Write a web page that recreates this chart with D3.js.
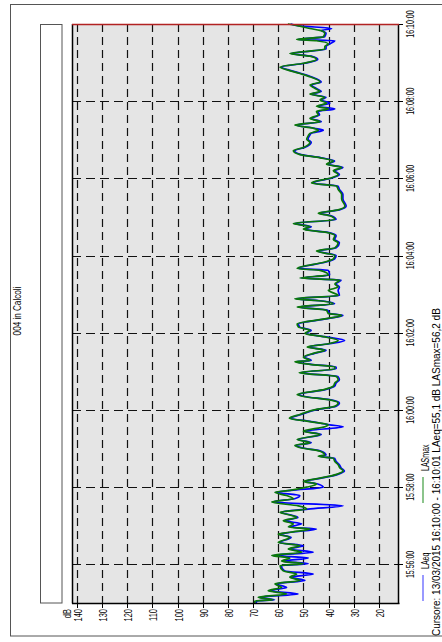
<!DOCTYPE html>
<html><head><meta charset="utf-8">
<script src="https://cdn.jsdelivr.net/npm/d3@7/dist/d3.min.js"></script>
<style>body{margin:0;background:#fff;}svg{display:block;font-family:"Liberation Sans",Arial,sans-serif;}</style>
</head><body><svg id="c" width="442" height="642"></svg>
<script>
// ---- data ----
const title = "004 in Calcoli";
const cursorText = "Cursore: 13/03/2015 16:10:00 - 16:10:01  LAeq=55,1 dB  LASmax=56,2 dB";
const seriesNames = ["LAeq", "LASmax"];
const dbTicks = [140,130,120,110,100,90,80,70,60,50,40,30,20];
const timeTickLabels = ["15:56:00","15:58:00","16:00:00","16:02:00","16:04:00","16:06:00","16:08:00","16:10:00"];
// seconds after 15:55:00
const seconds = [0,3,5,9,14,19,24,30,35,40,45,50,58,61,65,70,74,79,84,89,94,102,107,110,115,118,123,128,133,136,141,146,151,157,162,167,172,175,180,
185,189,194,200,205,210,215,220,225,228,230,236,241,245,249,254,262,267,274,277,282,287,293,301,306,311,316,321,324,332,337,342,347,352,358,364,367,
371,375,377,382,388,393,398,403,408,414,419,424,429,434,442,447,450,455,460,465,469,473,478,486,491,496,502,505,510,517,520,530,535,540,547,
552,560,565,571,576,581,585,590,596,602,606,611,617,628,635,643,648,653,661,666,672,677,682,687,692,697,703,708,716,721,726,
730,735,738,743,748,753,759,764,768,772,777,782,786,791,795,800,805,810,818,823,829,833,839,845,850,854,861,865,869,874,876,880,886,890,893,897,900];
const lasmax = [69.3,69.3,62,68,56.7,64,58.7,61.3,51.4,55.4,52.7,58,59.3,50,58.7,55.4,62.6,50.7,56,51.4,60,55.4,60,55.4,47.4,56,54,58,52.7,54.7,59.3,48.7,52,62.6,54,56.7,61.3,55.4,48.7,
44.8,50,43.4,36.8,34.2,35.5,36.2,37.5,38.1,44.1,41.5,43.4,50.7,53.4,47.4,52.5,43.4,50,41.5,40.1,47.4,55.6,51.4,44.8,37.5,36.2,40.1,50,52.5,41.5,38.1,37.5,36.2,36.8,51.7,37.5,37.5,
47.4,53.4,47.4,50,46.1,41.5,48.5,40.1,36.2,42.1,49.4,47.4,52,52.5,40.8,34.8,40.1,40.8,52.5,38.1,42.1,53.4,36.2,40.1,36.2,37.5,35.5,51.4,40.1,43.4,52.5,41.5,38.1,37.5,44.8,
37.5,36.2,38.1,37.5,40.8,50,47.4,54,37.5,39.5,44.1,36.2,33.5,34.8,34.8,36.2,36.8,46.8,38.8,36.2,38.1,34.8,40.8,38.1,43.4,51.4,54,50,47.4,48.7,48.1,
47.4,44.1,46.1,53.4,43.4,47.4,44.1,44.8,40.1,44.8,40.8,43.4,41.5,47.4,43.4,45.5,47.4,43.4,47.4,51.4,56.7,59.3,50,44.8,47.4,55.4,41.5,41.5,40.1,44.8,52.7,42.1,41.5,43.4,47.4,52,56.2];
const laeq = [68.8,68.5,61.5,67.5,52.1,63.5,56.7,60.8,49.4,54.9,46.1,57.5,58.8,48.1,58.2,48.1,62.1,46.1,55.5,50,59.6,54.9,59.5,54.9,44.8,55.5,50.7,57.5,52.2,54.2,58.8,48.2,34.2,62.1,53.5,51.4,61,54.9,42.1,
44.3,49.5,42.9,36.3,33.7,35,35.7,37,37.6,43.6,41,42.9,50.2,52.9,46.9,52,42.9,49.5,34.2,39.6,46.9,55.1,50.9,44.3,37,35.7,39.6,49.5,52,41,37.6,37,35.7,36.3,51.2,37,37,
46.9,52.9,46.9,49.5,45.6,41,48,39.6,33.6,41.6,48.9,46.9,51.5,52,40.3,34.3,39.6,40.3,52,37.6,41.6,52.9,35.7,36.2,35.7,37,35,50.9,39.6,40.1,52,41,37.6,37,44.3,
37,35.7,37.6,37,40.3,49.5,46.9,53.5,37,39,43.6,35.7,33,34.3,34.3,35.7,36.3,46.3,38.3,35.7,37.6,34.3,40.3,37.6,42.9,50.9,53.5,49.5,46.9,48.2,47.6,
46.9,42.1,45.6,52.9,42.9,46.9,43.6,44.3,37.5,44.3,39.5,42.9,41,46.9,42.9,45,46.9,42.9,46.9,50.9,56.2,58.8,49.5,44.3,46.9,54.9,41,41,39.6,37.5,52.2,41.6,41,42.9,38.8,51.5,55.1];

// ---- drawing ----
const svg = d3.select("#c");
const T0 = new Date(2015,2,13,15,55,0);
const T1 = new Date(2015,2,13,16,10,0);
const parseT = d3.timeParse("%H:%M:%S");
const tickDates = timeTickLabels.map(s => { const p = parseT(s); return new Date(2015,2,13,p.getHours(),p.getMinutes(),p.getSeconds()); });

const x = d3.scaleLinear().domain([142, 12]).range([72, 399]);
const y = d3.scaleTime().domain([T0, T1]).range([603, 24]);

// outer frame
svg.append("rect").attr("x",10.5).attr("y",4.5).attr("width",440).attr("height",631.5)
  .attr("fill","#fff").attr("stroke","#555").attr("stroke-width",1);
// left empty box
svg.append("rect").attr("x",40.5).attr("y",24.5).attr("width",21.5).attr("height",578.5)
  .attr("fill","#fff").attr("stroke","#555").attr("stroke-width",1);
// plot background
svg.append("rect").attr("x",72).attr("y",24).attr("width",327).attr("height",579).attr("fill","#e5e5e5");

// grids
const g = svg.append("g");
g.selectAll("line.vg").data(dbTicks).join("line").attr("class","vg")
  .attr("x1",d=>Math.round(x(d))+0.5).attr("x2",d=>Math.round(x(d))+0.5).attr("y1",24).attr("y2",603)
  .attr("stroke","#111").attr("stroke-width",1.2).attr("stroke-dasharray","8,5");
g.selectAll("line.hg").data(tickDates).join("line").attr("class","hg")
  .attr("y1",d=>Math.round(y(d))+0.5).attr("y2",d=>Math.round(y(d))+0.5).attr("x1",72).attr("x2",399)
  .attr("stroke","#111").attr("stroke-width",1.2).attr("stroke-dasharray","9,5");

// series
const pts = seconds.map((s,i)=>({t:new Date(T0.getTime()+s*1000), a:laeq[i], m:lasmax[i]}));
const lineA = d3.line().x(d=>x(d.a)).y(d=>y(d.t)).curve(d3.curveMonotoneY);
const lineM = d3.line().x(d=>x(d.m)).y(d=>y(d.t)).curve(d3.curveMonotoneY);
svg.append("path").datum(pts).attr("d",lineA).attr("fill","none").attr("stroke","#0000ff").attr("stroke-width",1.7);
svg.append("path").datum(pts).attr("d",lineM).attr("fill","none").attr("stroke","#0a780a").attr("stroke-width",1.7);

// plot border
svg.append("line").attr("x1",72.5).attr("x2",72.5).attr("y1",24).attr("y2",603.5).attr("stroke","#000").attr("stroke-width",1.5);
svg.append("line").attr("x1",72).attr("x2",399.5).attr("y1",603.5).attr("y2",603.5).attr("stroke","#000").attr("stroke-width",1.5);
svg.append("line").attr("x1",398.5).attr("x2",398.5).attr("y1",24).attr("y2",603.5).attr("stroke","#000").attr("stroke-width",1.5);
svg.append("line").attr("x1",72).attr("x2",399).attr("y1",24.5).attr("y2",24.5).attr("stroke","#b22222").attr("stroke-width",1.5);

// dB ticks
g.selectAll("line.dt").data(dbTicks).join("line").attr("class","dt")
  .attr("x1",d=>Math.round(x(d))+0.5).attr("x2",d=>Math.round(x(d))+0.5).attr("y1",603).attr("y2",608)
  .attr("stroke","#000");
// time ticks
g.selectAll("line.tt").data(tickDates).join("line").attr("class","tt")
  .attr("y1",d=>Math.round(y(d))+0.5).attr("y2",d=>Math.round(y(d))+0.5).attr("x1",395).attr("x2",403)
  .attr("stroke","#000");

function rtext(px, py, txt, anchor, fs, sx){
  return svg.append("text").attr("transform",`translate(${px},${py}) rotate(-90) scale(${sx},1)`)
    .attr("text-anchor",anchor).attr("font-size",fs).attr("fill","#000").text(txt);
}
dbTicks.forEach(d=>rtext(Math.round(x(d))+4.5, 609, d, "end", 11, 0.68));
rtext(70.5, 609, "dB", "end", 11, 0.68);
tickDates.forEach((d,i)=>rtext(414, y(d), timeTickLabels[i], "middle", 11, 0.64));
rtext(21, 311, title, "middle", 11, 0.74);
// legend
const legendColors = ["#7777ff","#66b066"];
const legendY = [603, 505];
seriesNames.forEach((n,i)=>{
  svg.append("line").attr("x1",423).attr("x2",423).attr("y1",legendY[i]-2).attr("y2",legendY[i]-28)
    .attr("stroke",legendColors[i]).attr("stroke-width",1.5);
  rtext(428.5, legendY[i]-34, n, "start", 11, 0.64);
});
rtext(440, 636, cursorText, "start", 11, 0.91);
</script></body></html>
